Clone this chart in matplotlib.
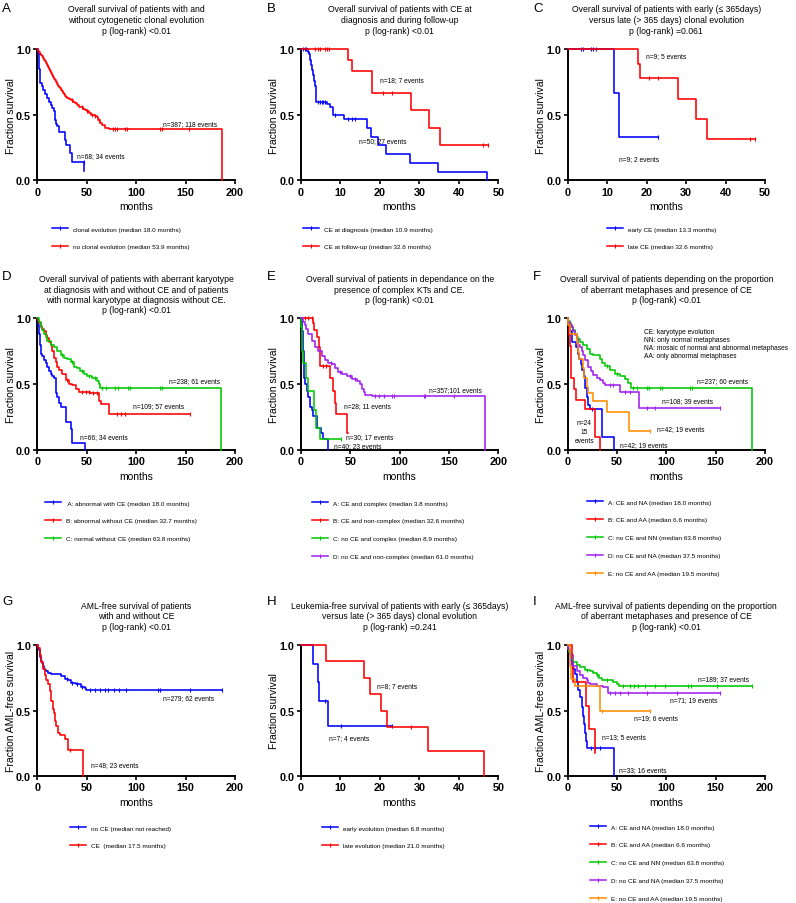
import numpy as np
import matplotlib
matplotlib.use('Agg')
import matplotlib.pyplot as plt
from matplotlib.lines import Line2D

plt.rcParams['font.family'] = ['Liberation Sans', 'DejaVu Sans']

W, H = 796, 904
fig = plt.figure(figsize=(W / 100, H / 100), dpi=100)

BLUE = '#0000ff'
RED = '#ff0000'
GREEN = '#00c800'
PURPLE = '#a020f0'
ORANGE = '#ff8c00'

# ---------------- Panel A ----------------
A_blue_t = [0, 1, 1.5, 2, 2.5, 3, 4.5, 6, 8, 10, 12, 13.5, 15, 17, 17.8, 18.5, 20, 22, 28, 29, 33, 35, 47.2, 47.5]
A_blue_s = [1, .96, .91, .85, .79, .74, .72, .69, .66, .63, .60, .57, .55, .53, .46, .43, .41, .37, .31, .27, .21, .14, .07, .07]
A_blue_c = [47]
A_red_t = [0, 1, 2, 3, 4, 5, 6, 7, 8, 9, 10, 11, 12, 13, 14, 15, 16, 17, 18, 19, 20, 21, 22, 23, 24, 25, 26, 27,
           28, 29, 30, 32, 34, 36, 38, 40, 42, 44, 46, 48, 50, 52, 54, 56, 58, 60, 61.5, 63, 65, 68, 72.5, 186.5]
A_red_s = [1, .985, .975, .965, .955, .945, .935, .92, .905, .89, .875, .86, .845, .83, .815, .80, .79, .775, .765,
           .75, .735, .72, .71, .70, .69, .68, .665, .655, .645, .635, .63, .62, .61, .595, .585, .57, .56, .555,
           .545, .535, .53, .515, .50, .495, .49, .485, .46, .44, .42, .40, .39, 0]
A_red_c = [35, 45, 50, 55, 58, 62, 77, 79, 81, 89, 91, 124, 126, 153]

# ---------------- Panel B ----------------
B_blue_t = [0, 1.7, 2.0, 2.3, 2.5, 2.7, 3.0, 3.2, 3.5, 3.7, 3.8, 6.5, 7.3, 8.0, 10.9, 16.8, 17.7, 19.6, 21.5, 27.6, 34.8, 47.1]
B_blue_s = [1, .98, .96, .92, .88, .84, .80, .76, .72, .68, .60, .58, .56, .50, .47, .40, .33, .27, .20, .133, .067, 0]
B_blue_c = [0.5, 1.0, 1.3, 4.4, 4.8, 5.2, 5.7, 6.1, 8.5, 12.0, 13.0, 13.7]
B_red_t = [0, 11.8, 13.0, 18.1, 28.0, 32.5, 35.2, 47.5]
B_red_s = [1, .917, .833, .667, .533, .40, .267, .267]
B_red_c = [3.5, 4.2, 4.8, 6.0, 6.5, 7.1, 20.9, 23.0, 46.2, 47.5]

# ---------------- Panel C ----------------
C_blue_t = [0, 11.8, 13.1, 23.0]
C_blue_s = [1, .667, .333, .333]
C_blue_c = [3.5, 4.0, 5.9, 6.5, 7.2, 23.0]
C_red_t = [0, 17.9, 18.3, 27.9, 32.5, 35.2, 47.5]
C_red_s = [1, .889, .778, .622, .467, .311, .311]
C_red_c = [20.7, 23.0, 46.2, 47.5]

# ---------------- Panel D ----------------
D_blue_t = [0, 1, 2, 2.7, 3.5, 5, 6.7, 8.4, 10, 12, 13.4, 15, 16.8, 18.5, 20, 21.8, 23.5, 28.6, 29.2, 33.6, 35.3, 48]
D_blue_s = [1, .95, .88, .80, .73, .71, .68, .66, .63, .60, .58, .56, .55, .43, .40, .36, .33, .27, .21, .16, .05, 0]
D_blue_c = []
D_red_t = [0, 1, 2, 3.4, 5, 6.7, 8.4, 10, 12, 13.4, 15, 16.8, 18.5, 20, 21.8, 25, 28.6, 32, 35, 38.7, 42, 53.8,
           62, 64, 72.3, 154.6]
D_red_s = [1, .98, .96, .93, .92, .90, .87, .85, .82, .80, .75, .70, .67, .63, .61, .58, .53, .50, .49, .46, .44,
           .43, .37, .35, .275, .275]
D_red_c = [30, 45, 49, 52, 56, 60, 80.7, 84.7, 89, 154.6]
D_green_t = [0, 1.7, 3.4, 5, 6.7, 8.4, 10, 13.4, 16.8, 20, 23.5, 27, 30, 33.6, 37, 40.3, 43.7, 47, 50.4, 55.5,
             60.5, 62, 63.8, 186]
D_green_s = [1, .97, .94, .91, .88, .86, .83, .80, .78, .75, .72, .70, .69, .67, .63, .62, .60, .58, .56, .55,
             .52, .50, .47, 0]
D_green_c = [25, 35, 45, 52, 58, 65.5, 69, 79, 81.4, 92, 94, 124, 126]

# ---------------- Panel E ----------------
E_blue_t = [0, 1, 1.4, 2.4, 3.4, 4, 5.8, 7.5, 9.2, 10.8, 12.5, 16, 20, 22.7, 27]
E_blue_s = [1, .95, .90, .75, .55, .50, .45, .40, .33, .30, .26, .17, .13, .08, 0]
E_blue_c = []
E_red_t = [0, 11.9, 13.6, 16, 18.6, 19.3, 29.5, 32, 34.5, 35.3, 47.0, 47.5]
E_red_s = [1, .96, .91, .86, .78, .64, .55, .45, .36, .27, .13, .13]
E_red_c = [4, 7.5, 10.8, 22, 25]
E_green_t = [0, 0.5, 1, 1.5, 2.4, 4.7, 6.8, 13.6, 15, 19.3, 40.7]
E_green_s = [1, .93, .85, .75, .66, .55, .45, .30, .17, .085, .085]
E_green_c = [40.7]
E_purple_t = [0, 1.7, 4, 5.5, 7.5, 10.8, 14, 17.6, 21, 24.4, 27.8, 31, 34.6, 38, 41.4, 46.4, 51.5, 56.6, 60,
              61.7, 63.4, 65, 71.8, 187]
E_purple_s = [1, .97, .95, .92, .88, .83, .78, .75, .71, .68, .66, .65, .62, .59, .58, .56, .54, .52, .50, .46,
              .44, .42, .41, 0]
E_purple_c = [30, 40, 50, 55, 75, 78.6, 83.7, 92, 94, 124.4, 125.4, 155]

# ---------------- Panel F ----------------
F_blue_t = [0, 1, 2.7, 4.4, 9, 10.5, 12, 13.5, 15, 16.5, 18, 19.5, 21, 23, 34.5, 47]
F_blue_s = [1, .95, .90, .82, .78, .73, .69, .65, .61, .56, .47, .40, .34, .31, .10, 0]
F_blue_c = [25]
F_red_t = [0, 1, 2, 2.7, 3.4, 4, 6.6, 8.5, 18, 28, 32.5]
F_red_s = [1, .958, .875, .79, .67, .55, .46, .38, .31, .10, 0]
F_red_c = []
F_green_t = [0, 1, 2.7, 4, 6, 8, 9.4, 11, 12.8, 16, 19.6, 23, 26, 33, 34.7, 38, 43, 48, 53.3, 58, 61.7, 64, 186.5]
F_green_s = [1, .98, .96, .93, .91, .88, .86, .84, .82, .80, .77, .73, .72, .69, .66, .64, .61, .58, .56, .54,
             .51, .47, 0]
F_green_c = [40, 50, 66.8, 70.8, 80.9, 82.9, 93.7, 95.4, 124, 126]
F_purple_t = [0, 1, 2.5, 4.4, 6, 7.8, 9.5, 11, 13, 14.5, 16, 18, 21, 24, 26, 29.7, 33, 36.4, 38, 53.3, 72.5, 154.5]
F_purple_s = [1, .97, .95, .93, .90, .87, .84, .80, .78, .75, .72, .68, .63, .60, .57, .55, .53, .51, .495, .44,
              .32, .32]
F_purple_c = [43, 46.5, 58, 63, 81, 88.7, 154.5]
F_orange_t = [0, 1, 2.5, 10, 11, 12, 15.5, 17, 19.5, 21, 26, 39.5, 62, 83.6]
F_orange_s = [1, .95, .88, .81, .74, .69, .62, .55, .48, .43, .37, .29, .145, .145]
F_orange_c = [83.6]

# ---------------- Panel G ----------------
G_blue_t = [0, 0.7, 1.5, 2.4, 3.2, 4, 5, 5.7, 6.5, 7.4, 9, 10.8, 14, 19, 24, 27.7, 31, 34.5, 39.5, 44.6, 48,
            49.7, 186.5]
G_blue_s = [1, .98, .96, .93, .91, .88, .86, .84, .82, .81, .80, .79, .78, .775, .76, .74, .73, .71, .70, .68,
            .67, .655, .655]
G_blue_c = [30, 35, 40, 45, 53, 58, 63, 68, 71.6, 78, 83, 90, 122, 124, 154, 186.5]
G_red_t = [0, 0.7, 2.4, 4, 5.7, 7.4, 9, 10.8, 12.5, 14, 16, 17, 17.6, 19.3, 21, 22.6, 27.7, 31, 46.3]
G_red_s = [1, .98, .92, .87, .82, .77, .73, .70, .65, .57, .51, .48, .42, .38, .33, .31, .28, .20, 0]
G_red_c = [32.8]

# ---------------- Panel H ----------------
H_blue_t = [0, 3.0, 4.4, 4.6, 6.8, 23.0]
H_blue_s = [1, .857, .714, .571, .381, .381]
H_blue_c = [6.1, 10.1, 23.0]
H_red_t = [0, 6.3, 16.0, 17.5, 20.2, 21.7, 32.3, 46.4]
H_red_s = [1, .875, .75, .625, .5, .375, .1875, 0]
H_red_c = [28.0]

# ---------------- Panel I ----------------
I_blue_t = [0, 1, 2, 3.4, 4.4, 6, 7.8, 9.4, 11, 12.8, 14.5, 16.2, 17, 18, 19, 19.6, 47.2]
I_blue_s = [1, .97, .94, .88, .85, .82, .78, .72, .66, .60, .53, .46, .40, .33, .27, .215, 0]
I_blue_c = [23.6, 28, 33]
I_red_t = [0, 4.4, 5.4, 19.0, 22.2, 27.6, 28.0]
I_red_s = [1, .92, .714, .536, .357, .179, .179]
I_red_c = []
I_green_t = [0, 1, 2, 2.7, 3.5, 4.4, 6, 9.4, 12.8, 18, 23, 26, 29.7, 31.4, 34.7, 43, 46.5, 50, 52.6, 186.6]
I_green_s = [1, .97, .95, .93, .91, .89, .867, .85, .83, .81, .80, .79, .77, .75, .735, .73, .72, .705, .69, .69]
I_green_c = [20, 30, 40, 56.7, 63.4, 67.5, 71.8, 78.6, 88.7, 98.8, 122.4, 125.1, 151.1, 186.6]
I_purple_t = [0, 1, 2.7, 4.4, 6, 9.4, 12.8, 16, 19.6, 21, 23, 29.7, 36.4, 41.5, 154.5]
I_purple_s = [1, .97, .92, .87, .84, .80, .77, .745, .73, .71, .70, .69, .68, .63, .63]
I_purple_c = [43.2, 48.2, 53.3, 61.7, 80.3, 110.6, 154.5]
I_orange_t = [0, 2.7, 4, 7.8, 33, 83.6]
I_orange_s = [1, .842, .737, .684, .50, .50]
I_orange_c = [35, 83.6]

# ---------------- text ----------------
titles = {
    'A': "Overall survival of patients with and\nwithout cytogenetic clonal evolution\np (log-rank) <0.01",
    'B': "Overall survival of patients with CE at\ndiagnosis and during follow-up\np (log-rank) <0.01",
    'C': "Overall survival of patients with early (\u2264 365days)\nversus late (> 365 days) clonal evolution\np (log-rank) =0.061",
    'D': "Overall survival of patients with aberrant karyotype\nat diagnosis with and without CE and of patients\nwith normal karyotype at diagnosis without CE.\np (log-rank) <0.01",
    'E': "Overall survival of patients in dependance on the\npresence of complex KTs and CE.\np (log-rank) <0.01",
    'F': "Overall survival of patients depending on the proportion\nof aberrant metaphases and presence of CE\np (log-rank) <0.01",
    'G': "AML-free survival of patients\nwith and without CE\np (log-rank) <0.01",
    'H': "Leukemia-free survival of patients with early (\u2264 365days)\nversus late (> 365 days) clonal evolution\np (log-rank) =0.241",
    'I': "AML-free survival of patients depending on the proportion\nof aberrant metaphases and presence of CE\np (log-rank) <0.01",
}
legend_FI = ["A: CE and NA (median 18.0 months)", "B: CE and AA (median 6.6 months)",
             "C: no CE and NN (median 63.8 months)", "D: no CE and NA (median 37.5 months)",
             "E: no CE and AA (median 19.5 months)"]

panels = {
    'A': dict(curves=[(A_blue_t, A_blue_s, A_blue_c, BLUE), (A_red_t, A_red_s, A_red_c, RED)],
              labels=["clonal evolution (median 18.0 months)", "no clonal evolution (median 53.9 months)"],
              notes=[(127, 0.43, "n=387; 118 events"), (40, 0.19, "n=68; 34 events")],
              xmax=200, ylabel="Fraction survival"),
    'B': dict(curves=[(B_blue_t, B_blue_s, B_blue_c, BLUE), (B_red_t, B_red_s, B_red_c, RED)],
              labels=["CE at diagnosis (median 10.9 months)", "CE at follow-up (median 32.6 months)"],
              notes=[(20, 0.765, "n=18; 7 events"), (14.8, 0.30, "n=50; 27 events")],
              xmax=50, ylabel="Fraction survival"),
    'C': dict(curves=[(C_blue_t, C_blue_s, C_blue_c, BLUE), (C_red_t, C_red_s, C_red_c, RED)],
              labels=["early CE (median 13.3 months)", "late CE (median 32.6 months)"],
              notes=[(20, 0.947, "n=9; 5 events"), (13.1, 0.164, "n=9; 2 events")],
              xmax=50, ylabel="Fraction survival"),
    'D': dict(curves=[(D_blue_t, D_blue_s, D_blue_c, BLUE), (D_red_t, D_red_s, D_red_c, RED),
                      (D_green_t, D_green_s, D_green_c, GREEN)],
              labels=[" A: abnormal with CE (median 18.0 months)", "B: abnormal without CE (median 32.7 months)",
                      "C: normal without CE (median 63.8 months)"],
              notes=[(132.8, 0.53, "n=238; 61 events"), (96.8, 0.34, "n=109; 57 events"),
                     (43.7, 0.10, "n=66; 34 events")],
              xmax=200, ylabel="Fraction survival"),
    'E': dict(curves=[(E_blue_t, E_blue_s, E_blue_c, BLUE), (E_red_t, E_red_s, E_red_c, RED),
                      (E_green_t, E_green_s, E_green_c, GREEN), (E_purple_t, E_purple_s, E_purple_c, PURPLE)],
              labels=["A: CE and complex (median 3.8 months)", "B: CE and non-complex (median 32.6 months)",
                      "C: no CE and complex (median 8.9 months)", "D: no CE and non-complex (median 61.0 months)"],
              notes=[(129.5, 0.457, "n=357;101 events"), (43.7, 0.336, "n=28; 11 events"),
                     (45.8, 0.10, "n=30; 17 events"), (33.6, 0.033, "n=40; 23 events")],
              xmax=200, ylabel="Fraction survival"),
    'F': dict(curves=[(F_blue_t, F_blue_s, F_blue_c, BLUE), (F_red_t, F_red_s, F_red_c, RED),
                      (F_green_t, F_green_s, F_green_c, GREEN), (F_purple_t, F_purple_s, F_purple_c, PURPLE),
                      (F_orange_t, F_orange_s, F_orange_c, ORANGE)],
              labels=legend_FI,
              notes=[(130.9, 0.528, "n=237; 60 events"), (95.4, 0.378, "n=108; 39 events"),
                     (90.4, 0.16, "n=42; 19 events"), (53.3, 0.043, "n=42; 19 events")],
              xmax=200, ylabel="Fraction survival"),
    'G': dict(curves=[(G_blue_t, G_blue_s, G_blue_c, BLUE), (G_red_t, G_red_s, G_red_c, RED)],
              labels=["no CE (median not reached)", "CE  (median 17.5 months)"],
              notes=[(127.4, 0.60, "n=279; 62 events"), (54.7, 0.09, "n=48; 23 events")],
              xmax=200, ylabel="Fraction AML-free survival"),
    'H': dict(curves=[(H_blue_t, H_blue_s, H_blue_c, BLUE), (H_red_t, H_red_s, H_red_c, RED)],
              labels=["early evolution (median 6.8 months)", "late evolution (median 21.0 months)"],
              notes=[(19.2, 0.687, "n=8; 7 events"), (7.2, 0.295, "n=7; 4 events")],
              xmax=50, ylabel="Fraction survival"),
    'I': dict(curves=[(I_blue_t, I_blue_s, I_blue_c, BLUE), (I_red_t, I_red_s, I_red_c, RED),
                      (I_green_t, I_green_s, I_green_c, GREEN), (I_purple_t, I_purple_s, I_purple_c, PURPLE),
                      (I_orange_t, I_orange_s, I_orange_c, ORANGE)],
              labels=legend_FI,
              notes=[(132.5, 0.747, "n=189; 37 events"), (103.9, 0.58, "n=71; 19 events"),
                     (67.5, 0.446, "n=19; 6 events"), (34.7, 0.30, "n=13; 5 events"),
                     (52.6, 0.046, "n=33; 16 events")],
              xmax=200, ylabel="Fraction AML-free survival"),
}

# ---------------- layout (pixels) ----------------
cols = [(37.3, 235.0), (301.0, 498.3), (567.5, 765.0)]
rows = [(50.0, 181.3), (319.2, 451.0), (646.0, 777.0)]
title_top = [5.5, 275.5, 602.0]
title_ls = [1.25, 1.15, 1.18]
letter_top = [2.5, 270.5, 596.0]
letter_x = [2.0, 266.5, 533.0]
legend_pos = {'A': (52, 229), 'B': (303, 229), 'C': (607, 229),
              'D': (45, 503), 'E': (312, 503), 'F': (587, 502),
              'G': (70, 828), 'H': (322, 828), 'I': (590, 827)}

LEG_FS = 4.6
ANN_FS = 4.8


def km(ax, t, s, cens, color):
    ax.step(t, s, where='post', color=color, lw=1.15, clip_on=False, zorder=3)
    if cens:
        ta = np.asarray(t, dtype=float)
        sa = np.asarray(s, dtype=float)
        idx = np.searchsorted(ta, cens, side='right') - 1
        ax.plot(cens, sa[idx], ls='none', marker='|', ms=3.2, mew=0.8, color=color,
                clip_on=False, zorder=3)


for k, name in enumerate('ABCDEFGHI'):
    r, c = divmod(k, 3)
    p = panels[name]
    x0, x1 = cols[c]
    yt, yb = rows[r]
    ax = fig.add_axes([x0 / W, 1 - yb / H, (x1 - x0) / W, (yb - yt) / H])
    ax.patch.set_visible(False)
    for t, s, cens, color in p['curves']:
        km(ax, t, s, cens, color)
    xmax = p['xmax']
    ax.set_xlim(0, xmax)
    ax.set_ylim(0, 1)
    ax.set_xticks(np.arange(0, xmax + 1, 50 if xmax == 200 else 10))
    ax.set_yticks([0, 0.5, 1.0])
    ax.set_yticklabels(['0.0', '0.5', '1.0'])
    for sp in ['top', 'right']:
        ax.spines[sp].set_visible(False)
    for sp in ['left', 'bottom']:
        ax.spines[sp].set_linewidth(1.4)
    ax.tick_params(width=1.2, length=3, labelsize=7.8, pad=1.5)
    for lab in ax.get_xticklabels() + ax.get_yticklabels():
        lab.set_fontweight('bold')
    ax.set_xlabel('months', fontsize=7.5, labelpad=3.5)
    ax.set_ylabel(p['ylabel'], fontsize=7.5, labelpad=0.3)

    for (nx, ny, txt) in p['notes']:
        ax.text(nx, ny, txt, fontsize=ANN_FS, ha='left', va='center')

    # title & letter
    fig.text((x0 + x1) / 2 / W, 1 - title_top[r] / H, titles[name], ha='center', va='top',
             fontsize=6.2, linespacing=title_ls[r])
    fig.text(letter_x[c] / W, 1 - letter_top[r] / H, name, ha='left', va='top', fontsize=9.5)

    # legend
    handles = [Line2D([0], [0], color=col, lw=1.1, marker='|', ms=3.2, mew=0.8)
               for (_, _, _, col) in p['curves']]
    lx, ly = legend_pos[name]
    ax.legend(handles, p['labels'], loc='upper left',
              bbox_to_anchor=(lx / W, 1 - (ly - 1.8) / H), bbox_transform=fig.transFigure,
              frameon=False, fontsize=LEG_FS, handlelength=2.5, handletextpad=0.8,
              labelspacing=1.93, borderpad=0, borderaxespad=0, numpoints=1)

    if name == 'F':
        ax.text(77, 0.806, "CE: karyotype evolution\nNN: only normal metaphases\n"
                "NA: mosaic of normal and abnormal metaphases\nAA: only abnormal metaphases",
                fontsize=ANN_FS, ha='left', va='center', linespacing=1.2)
        ax.text(16.9, 0.14, "n=24\n15\nevents", fontsize=ANN_FS, ha='center', va='center',
                linespacing=1.35)

fig.savefig('out.png', dpi=100)
